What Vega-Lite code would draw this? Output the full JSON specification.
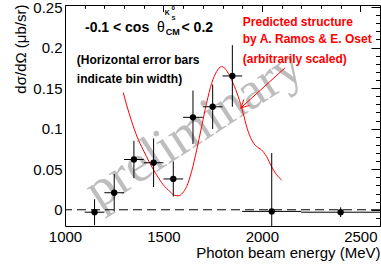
{
  "$schema": "https://vega.github.io/schema/vega-lite/v6.json",
  "width": 315,
  "height": 221,
  "autosize": {"type": "none"},
  "padding": {"left": 65, "top": 5, "right": 1, "bottom": 41},
  "background": "white",
  "config": {"view": {"stroke": "black", "strokeWidth": 1}, "font": "Liberation Sans"},
  "datasets": {
    "points": [
      {"E": 1150, "xlo": 1100, "xhi": 1200, "S": -0.003, "slo": -0.019, "shi": 0.013},
      {"E": 1250, "xlo": 1200, "xhi": 1300, "S": 0.021, "slo": -0.002, "shi": 0.044},
      {"E": 1350, "xlo": 1300, "xhi": 1400, "S": 0.062, "slo": 0.039, "shi": 0.085},
      {"E": 1450, "xlo": 1400, "xhi": 1500, "S": 0.058, "slo": 0.028, "shi": 0.088},
      {"E": 1550, "xlo": 1500, "xhi": 1600, "S": 0.038, "slo": 0.0165, "shi": 0.0595},
      {"E": 1650, "xlo": 1600, "xhi": 1700, "S": 0.114, "slo": 0.081, "shi": 0.147},
      {"E": 1750, "xlo": 1700, "xhi": 1800, "S": 0.127, "slo": 0.0995, "shi": 0.1545},
      {"E": 1850, "xlo": 1800, "xhi": 1900, "S": 0.165, "slo": 0.127, "shi": 0.203},
      {"E": 2050, "xlo": 1900, "xhi": 2200, "S": -0.002, "slo": -0.074, "shi": 0.07},
      {"E": 2400, "xlo": 2200, "xhi": 2600, "S": -0.003, "slo": -0.009, "shi": 0.003}
    ],
    "curve": [
      {"E": 1296, "S": 0.1445}, {"E": 1313, "S": 0.1293}, {"E": 1339, "S": 0.1087},
      {"E": 1367, "S": 0.0895}, {"E": 1397, "S": 0.0739}, {"E": 1431, "S": 0.0575},
      {"E": 1465, "S": 0.0431}, {"E": 1499, "S": 0.0308}, {"E": 1533, "S": 0.0225},
      {"E": 1558, "S": 0.0176}, {"E": 1575, "S": 0.0172}, {"E": 1597, "S": 0.0206},
      {"E": 1618, "S": 0.0287}, {"E": 1643, "S": 0.0472}, {"E": 1669, "S": 0.0739},
      {"E": 1694, "S": 0.1026}, {"E": 1719, "S": 0.1314}, {"E": 1745, "S": 0.156},
      {"E": 1770, "S": 0.1703}, {"E": 1795, "S": 0.1765}, {"E": 1812, "S": 0.1745},
      {"E": 1829, "S": 0.1684}, {"E": 1854, "S": 0.156}, {"E": 1880, "S": 0.1395},
      {"E": 1905, "S": 0.1191}, {"E": 1925, "S": 0.1006}, {"E": 1948, "S": 0.0862},
      {"E": 1973, "S": 0.078}, {"E": 1998, "S": 0.0739}, {"E": 2024, "S": 0.0656},
      {"E": 2049, "S": 0.0533}, {"E": 2075, "S": 0.0431}, {"E": 2100, "S": 0.0369}
    ]
  },
  "layer": [
    {
      "data": {"values": [{"t": "preliminary", "E": 1655, "S": 0.1}]},
      "mark": {"type": "text", "font": "Liberation Serif", "fontSize": 53, "angle": -33, "color": "#bdbdbd", "align": "center", "baseline": "middle"},
      "encoding": {
        "x": {"field": "E", "type": "quantitative", "scale": {"domain": [1000, 2600], "nice": false, "zero": false},
          "axis": {"values": [1000, 1500, 2000, 2500], "format": "d", "ticks": false, "domain": false, "grid": false,
            "labelFontSize": 15, "labelColor": "black", "labelPadding": 3, "labelFlush": false,
            "title": "Photon beam energy (MeV)", "titleFontSize": 15, "titleFontWeight": "normal", "titleColor": "black",
            "titleAnchor": "end", "titleAlign": "right", "titleBaseline": "alphabetic", "titleX": 315, "titleY": 31}},
        "y": {"field": "S", "type": "quantitative", "scale": {"domain": [-0.02, 0.2525], "nice": false, "zero": false},
          "axis": {"values": [0, 0.05, 0.1, 0.15, 0.2, 0.25], "format": ".2~f", "ticks": false, "domain": false, "grid": false,
            "labelFontSize": 15, "labelColor": "black", "labelPadding": 3, "labelFlush": false,
            "title": "dσ/dΩ (μb/sr)", "titleFontSize": 15, "titleFontWeight": "normal", "titleColor": "black",
            "titleAngle": -90, "titleAlign": "right", "titleBaseline": "alphabetic", "titleX": -40, "titleY": -1}},
        "text": {"field": "t"}
      }
    },
    {
      "data": {"values": [{"S": 0}]},
      "mark": {"type": "rule", "color": "black", "strokeWidth": 1, "strokeDash": [9, 5]},
      "encoding": {
        "y": {"field": "S", "type": "quantitative", "scale": {"domain": [-0.02, 0.2525], "nice": false, "zero": false}, "axis": null}
      }
    },
    {
      "data": {"name": "curve"},
      "mark": {"type": "line", "color": "red", "strokeWidth": 1, "interpolate": "monotone"},
      "encoding": {
        "x": {"field": "E", "type": "quantitative", "scale": {"domain": [1000, 2600], "nice": false, "zero": false},
          "axis": {"values": [1000, 1500, 2000, 2500], "tickSize": -6.6, "tickColor": "black", "labels": false, "domain": false, "grid": false, "title": null}},
        "y": {"field": "S", "type": "quantitative", "scale": {"domain": [-0.02, 0.2525], "nice": false, "zero": false},
          "axis": {"values": [-0.02, 0, 0.05, 0.1, 0.15, 0.2, 0.25], "tickSize": -9, "tickColor": "black", "labels": false, "domain": false, "grid": false, "title": null}}
      }
    },
    {
      "data": {"name": "points"},
      "mark": {"type": "rule", "color": "black", "strokeWidth": 1, "clip": true},
      "encoding": {
        "x": {"field": "xlo", "type": "quantitative", "scale": {"domain": [1000, 2600], "nice": false, "zero": false},
          "axis": {"values": [1100, 1200, 1300, 1400, 1600, 1700, 1800, 1900, 2100, 2200, 2300, 2400, 2600], "tickSize": -3.3, "tickColor": "black", "labels": false, "domain": false, "grid": false, "title": null}},
        "x2": {"field": "xhi"},
        "y": {"field": "S", "type": "quantitative", "scale": {"domain": [-0.02, 0.2525], "nice": false, "zero": false},
          "axis": {"values": [-0.01, 0.01, 0.02, 0.03, 0.04, 0.06, 0.07, 0.08, 0.09, 0.11, 0.12, 0.13, 0.14, 0.16, 0.17, 0.18, 0.19, 0.21, 0.22, 0.23, 0.24], "tickSize": -4.5, "tickColor": "black", "labels": false, "domain": false, "grid": false, "title": null}}
      }
    },
    {
      "data": {"name": "points"},
      "mark": {"type": "rule", "color": "black", "strokeWidth": 1, "clip": true},
      "encoding": {
        "x": {"field": "E", "type": "quantitative", "scale": {"domain": [1000, 2600], "nice": false, "zero": false}, "axis": null},
        "y": {"field": "slo", "type": "quantitative", "scale": {"domain": [-0.02, 0.2525], "nice": false, "zero": false}, "axis": null},
        "y2": {"field": "shi"}
      }
    },
    {
      "data": {"name": "points"},
      "mark": {"type": "point", "shape": "circle", "filled": true, "size": 40, "color": "black", "opacity": 1},
      "encoding": {
        "x": {"field": "E", "type": "quantitative", "scale": {"domain": [1000, 2600], "nice": false, "zero": false}, "axis": null},
        "y": {"field": "S", "type": "quantitative", "scale": {"domain": [-0.02, 0.2525], "nice": false, "zero": false}, "axis": null}
      }
    },
    {
      "data": {"values": [{"E": 2117, "S": 0.1749, "E2": 1893, "S2": 0.1256}]},
      "mark": {"type": "rule", "color": "red", "strokeWidth": 1},
      "encoding": {
        "x": {"field": "E", "type": "quantitative", "scale": {"domain": [1000, 2600], "nice": false, "zero": false}, "axis": null},
        "y": {"field": "S", "type": "quantitative", "scale": {"domain": [-0.02, 0.2525], "nice": false, "zero": false}, "axis": null},
        "x2": {"field": "E2"},
        "y2": {"field": "S2"}
      }
    },
    {
      "data": {"values": [{"E": 1893, "S": 0.1256}]},
      "mark": {"type": "point", "shape": "M -0.45 0.9 L 0 0 L 0.45 0.9", "filled": false, "size": 324, "angle": 227, "color": "red", "strokeWidth": 1, "opacity": 1},
      "encoding": {
        "x": {"field": "E", "type": "quantitative", "scale": {"domain": [1000, 2600], "nice": false, "zero": false}, "axis": null},
        "y": {"field": "S", "type": "quantitative", "scale": {"domain": [-0.02, 0.2525], "nice": false, "zero": false}, "axis": null}
      }
    },
    {
      "data": {"values": [
        {"t": "-0.1 < cos", "E": 1101.5, "S": 0.2192},
        {"t": "< 0.2", "E": 1592, "S": 0.2192}
      ]},
      "mark": {"type": "text", "fontSize": 14, "fontWeight": "bold", "color": "black", "align": "left", "baseline": "alphabetic"},
      "encoding": {
        "x": {"field": "E", "type": "quantitative", "scale": {"domain": [1000, 2600], "nice": false, "zero": false}, "axis": null},
        "y": {"field": "S", "type": "quantitative", "scale": {"domain": [-0.02, 0.2525], "nice": false, "zero": false}, "axis": null},
        "text": {"field": "t"}
      }
    },
    {
      "data": {"values": [{"t": "θ", "E": 1467, "S": 0.2192}]},
      "mark": {"type": "text", "fontSize": 14, "color": "black", "align": "left", "baseline": "alphabetic"},
      "encoding": {
        "x": {"field": "E", "type": "quantitative", "scale": {"domain": [1000, 2600], "nice": false, "zero": false}, "axis": null},
        "y": {"field": "S", "type": "quantitative", "scale": {"domain": [-0.02, 0.2525], "nice": false, "zero": false}, "axis": null},
        "text": {"field": "t"}
      }
    },
    {
      "data": {"values": [{"t": "CM", "E": 1512, "S": 0.2155}]},
      "mark": {"type": "text", "fontSize": 9, "fontWeight": "bold", "color": "black", "align": "left", "baseline": "alphabetic"},
      "encoding": {
        "x": {"field": "E", "type": "quantitative", "scale": {"domain": [1000, 2600], "nice": false, "zero": false}, "axis": null},
        "y": {"field": "S", "type": "quantitative", "scale": {"domain": [-0.02, 0.2525], "nice": false, "zero": false}, "axis": null},
        "text": {"field": "t"}
      }
    },
    {
      "data": {"values": [{"t": "K", "E": 1507, "S": 0.2398}]},
      "mark": {"type": "text", "fontSize": 7, "fontWeight": "bold", "color": "black", "align": "left", "baseline": "alphabetic"},
      "encoding": {
        "x": {"field": "E", "type": "quantitative", "scale": {"domain": [1000, 2600], "nice": false, "zero": false}, "axis": null},
        "y": {"field": "S", "type": "quantitative", "scale": {"domain": [-0.02, 0.2525], "nice": false, "zero": false}, "axis": null},
        "text": {"field": "t"}
      }
    },
    {
      "data": {"values": [
        {"t": "S", "E": 1541, "S": 0.2345},
        {"t": "0", "E": 1541, "S": 0.2458}
      ]},
      "mark": {"type": "text", "fontSize": 6, "fontWeight": "bold", "color": "black", "align": "left", "baseline": "alphabetic"},
      "encoding": {
        "x": {"field": "E", "type": "quantitative", "scale": {"domain": [1000, 2600], "nice": false, "zero": false}, "axis": null},
        "y": {"field": "S", "type": "quantitative", "scale": {"domain": [-0.02, 0.2525], "nice": false, "zero": false}, "axis": null},
        "text": {"field": "t"}
      }
    },
    {
      "data": {"values": [
        {"t": "(Horizontal error bars", "E": 1060, "S": 0.1792},
        {"t": "indicate bin width)", "E": 1060, "S": 0.1558}
      ]},
      "mark": {"type": "text", "fontSize": 12, "fontWeight": "bold", "color": "black", "align": "left", "baseline": "alphabetic"},
      "encoding": {
        "x": {"field": "E", "type": "quantitative", "scale": {"domain": [1000, 2600], "nice": false, "zero": false}, "axis": null},
        "y": {"field": "S", "type": "quantitative", "scale": {"domain": [-0.02, 0.2525], "nice": false, "zero": false}, "axis": null},
        "text": {"field": "t"}
      }
    },
    {
      "data": {"values": [
        {"t": "Predicted structure", "E": 1903, "S": 0.2272},
        {"t": "by A. Ramos & E. Oset", "E": 1903, "S": 0.2053},
        {"t": "(arbitrarily scaled)", "E": 1903, "S": 0.1814}
      ]},
      "mark": {"type": "text", "fontSize": 12, "fontWeight": "bold", "color": "red", "align": "left", "baseline": "alphabetic"},
      "encoding": {
        "x": {"field": "E", "type": "quantitative", "scale": {"domain": [1000, 2600], "nice": false, "zero": false}, "axis": null},
        "y": {"field": "S", "type": "quantitative", "scale": {"domain": [-0.02, 0.2525], "nice": false, "zero": false}, "axis": null},
        "text": {"field": "t"}
      }
    }
  ],
  "resolve": {"axis": {"x": "independent", "y": "independent"}}
}
